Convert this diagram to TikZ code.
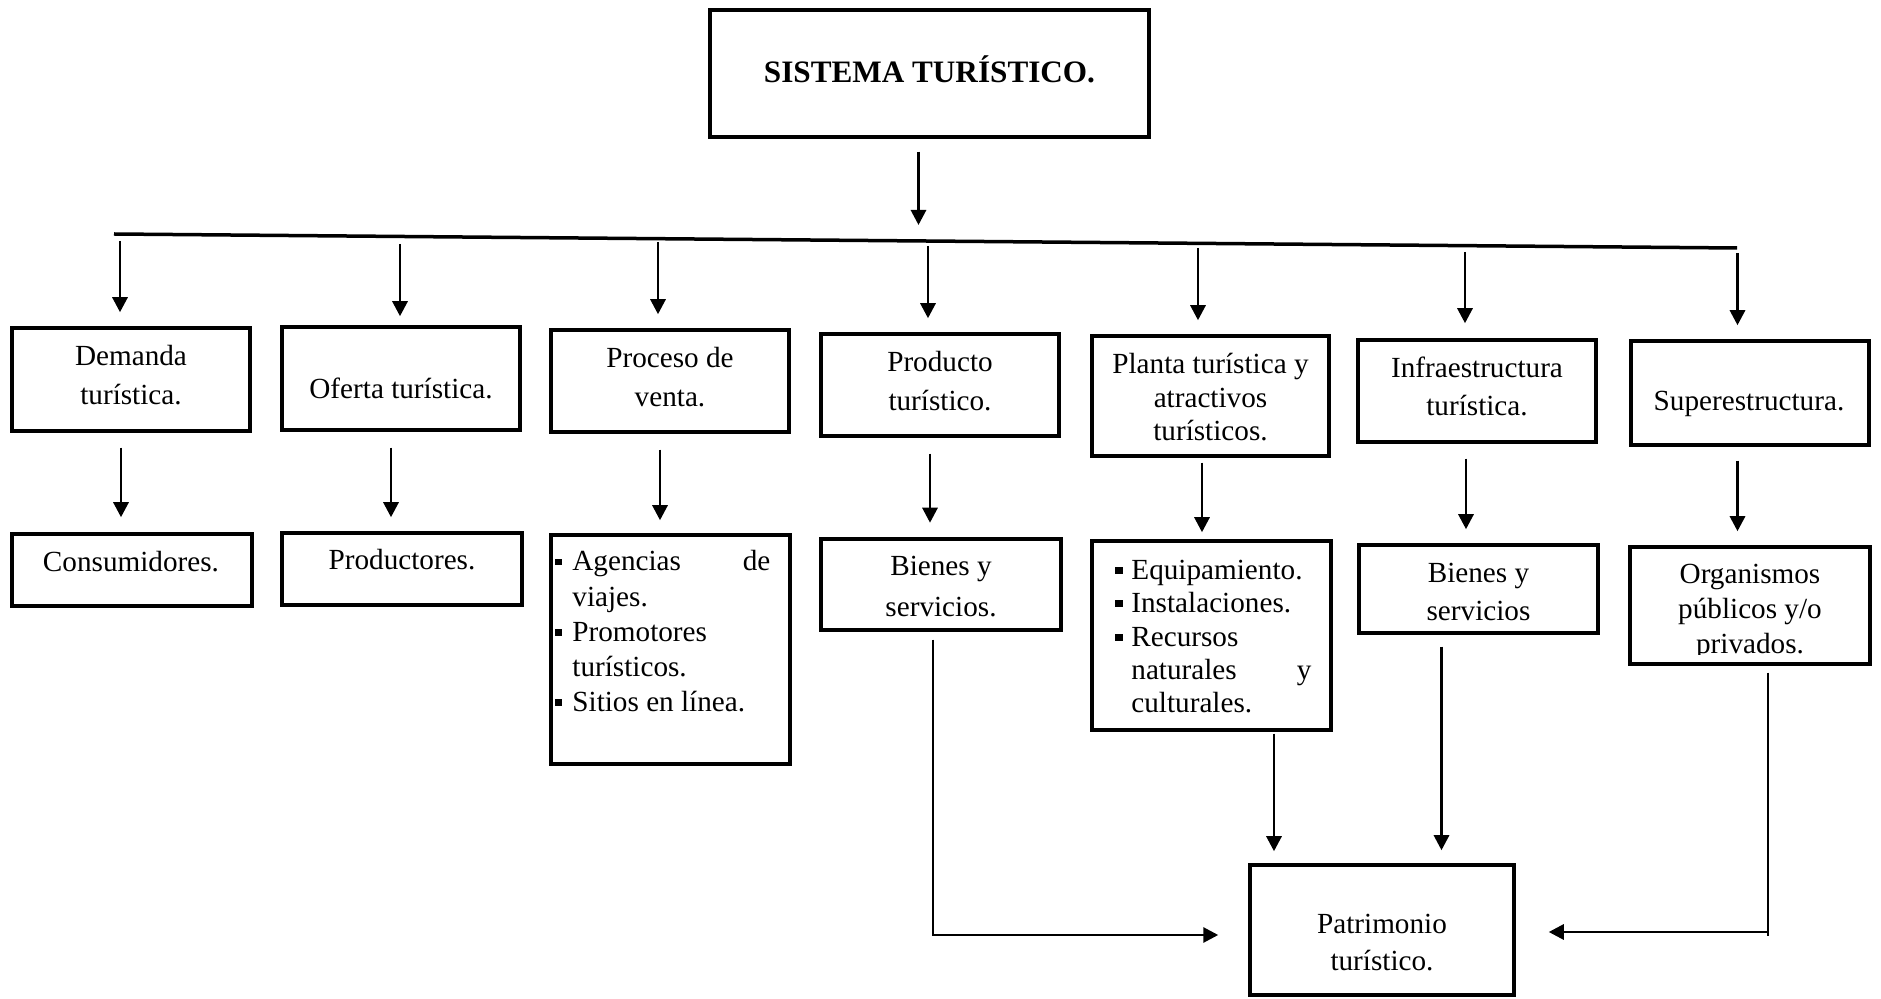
\documentclass[tikz,border=0pt]{standalone}
\usepackage{fontspec}
\setmainfont{Liberation Serif}
\usetikzlibrary{arrows.meta}
\newcommand\ts{\rule{0pt}{12pt}}
\newcommand\bul{\rule[2.85pt]{3.6pt}{3.3pt}}
\newcommand\bitem[3]{\makebox[#1][l]{\bul}\makebox[#2][l]{#3}}
\newcommand\citem[3]{\makebox[#1][l]{}\makebox[#2][l]{#3}}
\begin{document}
\begin{tikzpicture}[x=0.5pt,y=-0.5pt,
  box/.style={draw, rectangle, line width=1.75pt, inner sep=0pt},
  txt/.style={inner sep=0pt, align=center, font=\fontsize{14.6pt}{19.5pt}\selectfont},
  lsp/.style={font=\fontsize{14.6pt}{#1}\selectfont},
  arr/.style={line width=1.45pt, -{Triangle[length=7.5pt,width=7.5pt]}},
  conn/.style={line width=1.45pt},
  hline/.style={line width=1.75pt}]
\path[fill=white] (0,0) rectangle (1881,999);
\useasboundingbox (0,0) rectangle (1881,999);

% boxes
\node[box, minimum width=219.5pt, minimum height=63.5pt] (sys) at (929.5,73.5) {};
\node[box, minimum width=119pt, minimum height=51.5pt] (demanda) at (131,379.5) {};
\node[box, minimum width=119pt, minimum height=51.5pt] (oferta) at (401,378.5) {};
\node[box, minimum width=119pt, minimum height=51pt] (proceso) at (670,381) {};
\node[box, minimum width=119pt, minimum height=51pt] (producto) at (940,385) {};
\node[box, minimum width=118.5pt, minimum height=60pt] (planta) at (1210.5,396) {};
\node[box, minimum width=119pt, minimum height=51pt] (infra) at (1477,391) {};
\node[box, minimum width=119pt, minimum height=52pt] (super) at (1750,393) {};
\node[box, minimum width=120pt, minimum height=36pt] (cons) at (132,570) {};
\node[box, minimum width=120pt, minimum height=36pt] (prod) at (402,569) {};
\node[box, minimum width=119.5pt, minimum height=114.5pt] (agencias) at (670.5,649.5) {};
\node[box, minimum width=120pt, minimum height=45.5pt] (bienes) at (941,584.5) {};
\node[box, minimum width=119.5pt, minimum height=94.5pt] (equip) at (1211.5,635.5) {};
\node[box, minimum width=119.5pt, minimum height=44pt] (bienes2) at (1478.5,589) {};
\node[box, minimum width=120pt, minimum height=58.5pt] (org) at (1750,605.5) {};
\node[box, minimum width=132pt, minimum height=65pt] (patr) at (1382,930) {};

% texts
\node[txt, font=\fontsize{15.6pt}{18pt}\selectfont\bfseries, anchor=base] (sysT) at (929.5,83) {SISTEMA TURÍSTICO.};
\node[txt, lsp=19.5pt, anchor=north] (demandaT) at (131,341.3) {\ts Demanda\\turística.};
\node[txt, anchor=base] (ofertaT) at (401,398.3) {Oferta turística.};
\node[txt, lsp=19.5pt, anchor=north] (procesoT) at (670,342.7) {\ts Proceso de\\venta.};
\node[txt, lsp=19.65pt, anchor=north] (productoT) at (940,346.7) {\ts Producto\\turístico.};
\node[txt, lsp=16.7pt, anchor=north] (plantaT) at (1210.5,349.3) {\ts Planta turística y\\atractivos\\turísticos.};
\node[txt, lsp=19.15pt, anchor=north] (infraT) at (1477,352.7) {\ts Infraestructura\\turística.};
\node[txt, anchor=base] (superT) at (1749,410.7) {Superestructura.};
\node[txt, anchor=base] (consT) at (131,571.7) {Consumidores.};
\node[txt, anchor=base] (prodT) at (402,570) {Productores.};
\node[txt, lsp=17.6pt, align=left, anchor=north west] (agenciasT) at (554.5,546.5)
  {\ts\bitem{8.75pt}{99pt}{Agencias\hfill de}\\\citem{8.75pt}{99pt}{viajes.}\\\bitem{8.75pt}{99pt}{Promotores}\\\citem{8.75pt}{99pt}{turísticos.}\\\bitem{8.75pt}{99pt}{Sitios en línea.}};
\node[txt, lsp=20.2pt, anchor=north] (bienesT) at (941,551.5) {\ts Bienes y\\servicios.};
\node[txt, lsp=16.7pt, align=left, anchor=north west] (equipT) at (1115,555)
  {\ts\bitem{8pt}{90pt}{Equipamiento.}\\\bitem{8pt}{90pt}{Instalaciones.}\\\bitem{8pt}{90pt}{Recursos}\\\citem{8pt}{90pt}{naturales\hfill y}\\\citem{8pt}{90pt}{culturales.}};
\node[txt, lsp=19pt, anchor=north] (bienes2T) at (1478.5,558) {\ts Bienes y\\servicios};
\begin{scope}
  \clip (org.north west) rectangle ([yshift=5.5pt]org.south east);
  \node[txt, lsp=17.5pt, anchor=north] (orgT) at (1750,559) {\ts Organismos\\públicos y/o\\privados.};
\end{scope}
\node[txt, lsp=18.5pt, anchor=north] (patrT) at (1382,909) {\ts Patrimonio\\turístico.};

% main bar
\coordinate (hl) at (114,234);
\coordinate (hr) at (1737,248);
\draw[hline] (hl) -- (hr);
\coordinate (ctip) at (918.5,225);
\draw[arr, shorten <=6.5pt] ([xshift=-5.5pt]sys.south) -- (ctip);

\coordinate (t1) at (120,241);
\coordinate (t2) at (400,244);
\coordinate (t3) at (658,242);
\coordinate (t4) at (928,246);
\coordinate (t5) at (1198,248);
\coordinate (t6) at (1465,252);
\coordinate (t7) at (1737.5,253);
\draw[arr, shorten >=7pt] (t1) -- (t1 |- demanda.north);
\draw[arr, shorten >=4.5pt] (t2) -- (t2 |- oferta.north);
\draw[arr, shorten >=7pt] (t3) -- (t3 |- proceso.north);
\draw[arr, shorten >=7pt] (t4) -- (t4 |- producto.north);
\draw[arr, shorten >=7pt] (t5) -- (t5 |- planta.north);
\draw[arr, shorten >=7.5pt] (t6) -- (t6 |- infra.north);
\draw[arr, shorten >=7pt] (t7) -- (t7 |- super.north);

% row 1 to row 2
\draw[arr, shorten <=7.5pt, shorten >=7.5pt] ([xshift=-5pt]demanda.south) -- ([xshift=-5pt]demanda.south |- cons.north);
\draw[arr, shorten <=8pt, shorten >=7pt] ([xshift=-5pt]oferta.south) -- ([xshift=-5pt]oferta.south |- prod.north);
\draw[arr, shorten <=8pt, shorten >=6.5pt] ([xshift=-5pt]proceso.south) -- ([xshift=-5pt]proceso.south |- agencias.north);
\draw[arr, shorten <=8pt, shorten >=7.25pt] ([xshift=-5pt]producto.south) -- ([xshift=-5pt]producto.south |- bienes.north);
\draw[arr, shorten <=2.5pt, shorten >=3.5pt] ([xshift=-4.25pt]planta.south) -- ([xshift=-4.25pt]planta.south |- equip.north);
\draw[arr, shorten <=7.5pt, shorten >=7pt] ([xshift=-5.5pt]infra.south) -- ([xshift=-5.5pt]infra.south |- bienes2.north);
\draw[arr, shorten <=7pt, shorten >=7pt] ([xshift=-6.25pt]super.south) -- ([xshift=-6.25pt]super.south |- org.north);

% to patrimonio
\draw[arr, shorten <=4pt, shorten >=15pt] ([xshift=-4pt]bienes.south) |- ([yshift=-2.5pt]patr.west);
\draw[arr, shorten <=1pt, shorten >=6pt] ([xshift=31.25pt]equip.south) -- ([xshift=31.25pt]equip.south |- patr.north);
\draw[arr, shorten <=6pt, shorten >=6.5pt] ([xshift=-18.5pt]bienes2.south) -- ([xshift=-18.5pt]bienes2.south |- patr.north);
\draw[conn, shorten <=3.5pt] ([xshift=9pt]org.south) -- ([xshift=9pt,yshift=-3pt]org.south |- patr.east);
\draw[arr, shorten >=16.5pt] ([xshift=9pt,yshift=-1pt]org.south |- patr.east) -- ([yshift=-1pt]patr.east);
\end{tikzpicture}
\end{document}
